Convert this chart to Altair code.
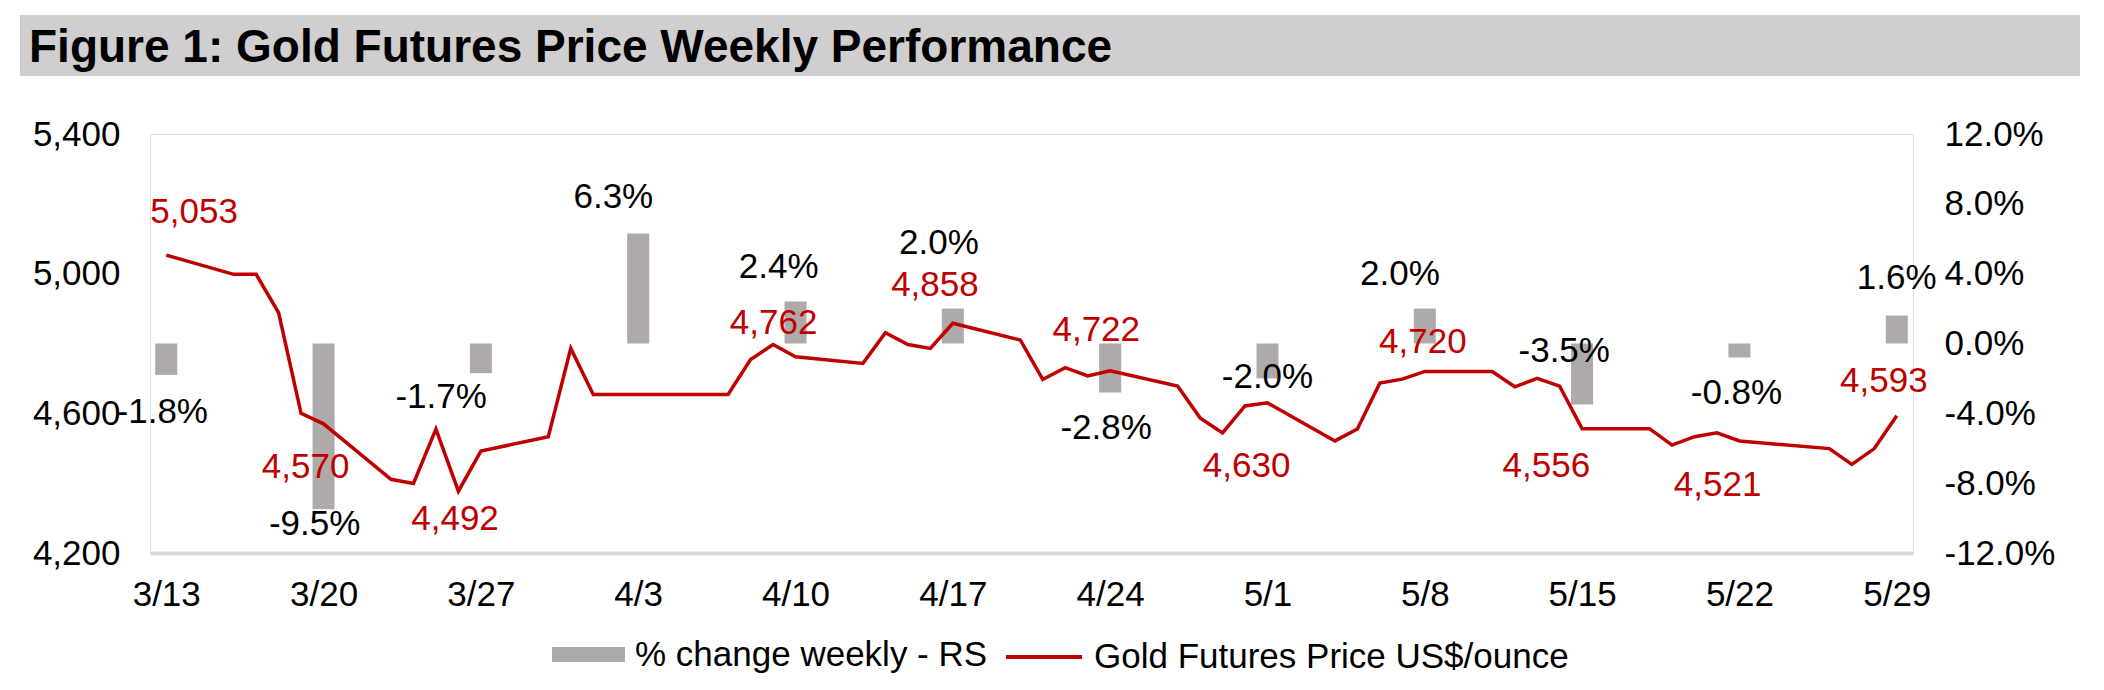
import json
import pandas as pd
import altair as alt

FONT = "Liberation Sans"
RED = "#c00000"
GREY = "#aeaaaa"
BAND = "#d0cecf"

title_text = "Figure 1: Gold Futures Price Weekly Performance"
legend_labels = ["% change weekly - RS", "Gold Futures Price US$/ounce"]

# Daily gold futures settlement prices (US$/oz)
daily_dates = [
    "2026-03-13", "2026-03-16", "2026-03-17", "2026-03-18", "2026-03-19", "2026-03-20",
    "2026-03-23", "2026-03-24", "2026-03-25", "2026-03-26", "2026-03-27",
    "2026-03-30", "2026-03-31", "2026-04-01", "2026-04-02",
    "2026-04-06", "2026-04-07", "2026-04-08", "2026-04-09", "2026-04-10",
    "2026-04-13", "2026-04-14", "2026-04-15", "2026-04-16", "2026-04-17",
    "2026-04-20", "2026-04-21", "2026-04-22", "2026-04-23", "2026-04-24",
    "2026-04-27", "2026-04-28", "2026-04-29", "2026-04-30", "2026-05-01",
    "2026-05-04", "2026-05-05", "2026-05-06", "2026-05-07", "2026-05-08",
    "2026-05-11", "2026-05-12", "2026-05-13", "2026-05-14", "2026-05-15",
    "2026-05-18", "2026-05-19", "2026-05-20", "2026-05-21", "2026-05-22",
    "2026-05-26", "2026-05-27", "2026-05-28", "2026-05-29",
]
daily_prices = [
    5053, 4998, 4998, 4888, 4600, 4570,
    4411, 4399, 4555, 4377, 4492,
    4533, 4786, 4654, 4654,
    4654, 4654, 4754, 4797, 4762,
    4743, 4831, 4797, 4786, 4858,
    4810, 4697, 4731, 4707, 4722,
    4678, 4587, 4544, 4621, 4630,
    4521, 4555, 4687, 4698, 4720,
    4720, 4676, 4700, 4678, 4556,
    4556, 4509, 4533, 4544, 4521,
    4499, 4454, 4499, 4593,
]

# Weekly (Friday) week-on-week change
week_dates = [
    "2026-03-13", "2026-03-20", "2026-03-27", "2026-04-03", "2026-04-10", "2026-04-17",
    "2026-04-24", "2026-05-01", "2026-05-08", "2026-05-15", "2026-05-22", "2026-05-29",
]
week_change = [-0.018, -0.095, -0.017, 0.063, 0.024, 0.020,
               -0.028, -0.020, 0.020, -0.035, -0.008, 0.016]

# Friday closes that carry a value label
close_dates = [
    "2026-03-13", "2026-03-20", "2026-03-27", "2026-04-10", "2026-04-17", "2026-04-24",
    "2026-05-01", "2026-05-08", "2026-05-15", "2026-05-22", "2026-05-29",
]
close_prices = [5053, 4570, 4492, 4762, 4858, 4722, 4630, 4720, 4556, 4521, 4593]

tick_labels = ["3/13", "3/20", "3/27", "4/3", "4/10", "4/17",
               "4/24", "5/1", "5/8", "5/15", "5/22", "5/29"]

# Hand-placed label nudges, in pixels (right / down)
change_dx = [-4, -9, -40, -25, -17, -14, -4, 0, -25, -18, -3, 0]
change_dy = [37, 15, 24, -37, -35, -66, 36, -1, -35, -54, 36, -38]
close_dx = [28, -18, -26, -22, -18, -14, -21, -2, -36, -22, -13]
close_dy = [-43, 43, 68, -34, -38, -41, 63, -29, 37, 44, -35]

start = pd.Timestamp(daily_dates[0])


def day_index(dates):
    return (pd.to_datetime(pd.Series(dates)) - start).dt.days


daily = pd.DataFrame({"day": day_index(daily_dates), "price": daily_prices,
                      "series": legend_labels[1]})
weekly = pd.DataFrame({"day": day_index(week_dates), "change": week_change,
                       "dx": change_dx, "dy": change_dy, "series": legend_labels[0]})
closes = pd.DataFrame({"day": day_index(close_dates), "price": close_prices,
                       "dx": close_dx, "dy": close_dy})

W, H = 1763, 419
X_DOM = [-0.5, 77.5]
PRICE_DOM = [4200, 5400]
PCT_DOM = [-0.12, 0.12]

# data units per pixel, used to turn the pixel nudges into label positions
x_per_px = (X_DOM[1] - X_DOM[0]) / W
price_per_px = (PRICE_DOM[1] - PRICE_DOM[0]) / H
pct_per_px = (PCT_DOM[1] - PCT_DOM[0]) / H

x_scale = alt.Scale(domain=X_DOM, nice=False, zero=False)
price_scale = alt.Scale(domain=PRICE_DOM, nice=False, zero=False)
pct_scale = alt.Scale(domain=PCT_DOM, nice=False, zero=False)

label_style = dict(labelFont=FONT, labelFontSize=35, labelColor="black")

x_axis = alt.Axis(
    values=list(range(0, 78, 7)),
    labelExpr=f"{json.dumps(tick_labels)}[round(datum.value / 7)]",
    title=None, grid=False, ticks=False,
    domainColor="#d9d9d9", domainWidth=4, labelPadding=24,
    labelBaseline="top", **label_style,
)
x_enc = alt.X("day:Q", scale=x_scale, axis=x_axis)

bars = alt.Chart(weekly).mark_bar(size=22).encode(
    x=x_enc,
    y=alt.Y("change:Q", scale=pct_scale,
            axis=alt.Axis(orient="right", values=[-0.12, -0.08, -0.04, 0, 0.04, 0.08, 0.12],
                          format=".1%", title=None, grid=False, ticks=False, domain=False,
                          labelPadding=31, **label_style)),
    y2=alt.datum(0),
    fill=alt.Fill("series:N", scale=alt.Scale(domain=[legend_labels[0]], range=[GREY]),
                  legend=alt.Legend(title=None, orient="none", legendX=402, legendY=484,
                                    symbolType="M-1,-0.205H1V0.205H-1Z", symbolSize=5329,
                                    symbolStrokeWidth=0, symbolOpacity=1, labelOffset=10,
                                    padding=0, labelFont=FONT, labelFontSize=35,
                                    labelColor="black", labelLimit=0)),
)

line = alt.Chart(daily).mark_line(strokeWidth=3.5).encode(
    x=x_enc,
    y=alt.Y("price:Q", scale=price_scale,
            axis=alt.Axis(orient="left", values=[4200, 4600, 5000, 5400], format=",.0f",
                          title=None, grid=False, ticks=False, domain=False,
                          labelPadding=30, **label_style)),
    stroke=alt.Stroke("series:N", scale=alt.Scale(domain=[legend_labels[1]], range=[RED]),
                      legend=alt.Legend(title=None, orient="none", legendX=854, legendY=483,
                                        symbolType="stroke", symbolSize=5776,
                                        symbolStrokeWidth=4, labelOffset=10, padding=0,
                                        labelFont=FONT, labelFontSize=35,
                                        labelColor="black", labelLimit=0)),
)

change_text = alt.Chart(weekly).transform_calculate(
    lx=f"datum.day + datum.dx * {x_per_px}",
    ly=f"datum.change - datum.dy * {pct_per_px}",
).mark_text(
    font=FONT, fontSize=35, color="black", align="center", baseline="middle"
).encode(
    x=alt.X("lx:Q", scale=x_scale, axis=x_axis),
    y=alt.Y("ly:Q", scale=pct_scale, axis=None),
    text=alt.Text("change:Q", format=".1%"),
)

close_text = alt.Chart(closes).transform_calculate(
    lx=f"datum.day + datum.dx * {x_per_px}",
    ly=f"datum.price - datum.dy * {price_per_px}",
).mark_text(
    font=FONT, fontSize=35, color=RED, align="center", baseline="middle"
).encode(
    x=alt.X("lx:Q", scale=x_scale, axis=x_axis),
    y=alt.Y("ly:Q", scale=price_scale, axis=None),
    text=alt.Text("price:Q", format=","),
)

head = pd.DataFrame({"t": [title_text]})
band = alt.Chart(head).mark_rect(color=BAND).encode(
    x=alt.value(-130), x2=alt.value(1930), y=alt.value(-119), y2=alt.value(-58)
)
heading = alt.Chart(head).mark_text(
    font=FONT, fontSize=46, fontWeight="bold", color="black",
    align="left", baseline="alphabetic"
).encode(x=alt.value(-121), y=alt.value(-72), text="t:N")

chart = alt.layer(band, heading, bars, line, change_text, close_text).resolve_scale(
    y="independent"
).properties(
    width=W, height=H,
    autosize=alt.AutoSizeParams(type="none"),
    padding={"left": 150, "top": 134, "right": 191, "bottom": 137},
    background="white",
).configure_view(stroke=None).configure(
    locale={"number": {"decimal": ".", "thousands": ",", "grouping": [3],
                       "currency": ["$", ""], "minus": "-"}}
)

chart.save("out.html", embed_options={"renderer": "svg", "actions": False})
